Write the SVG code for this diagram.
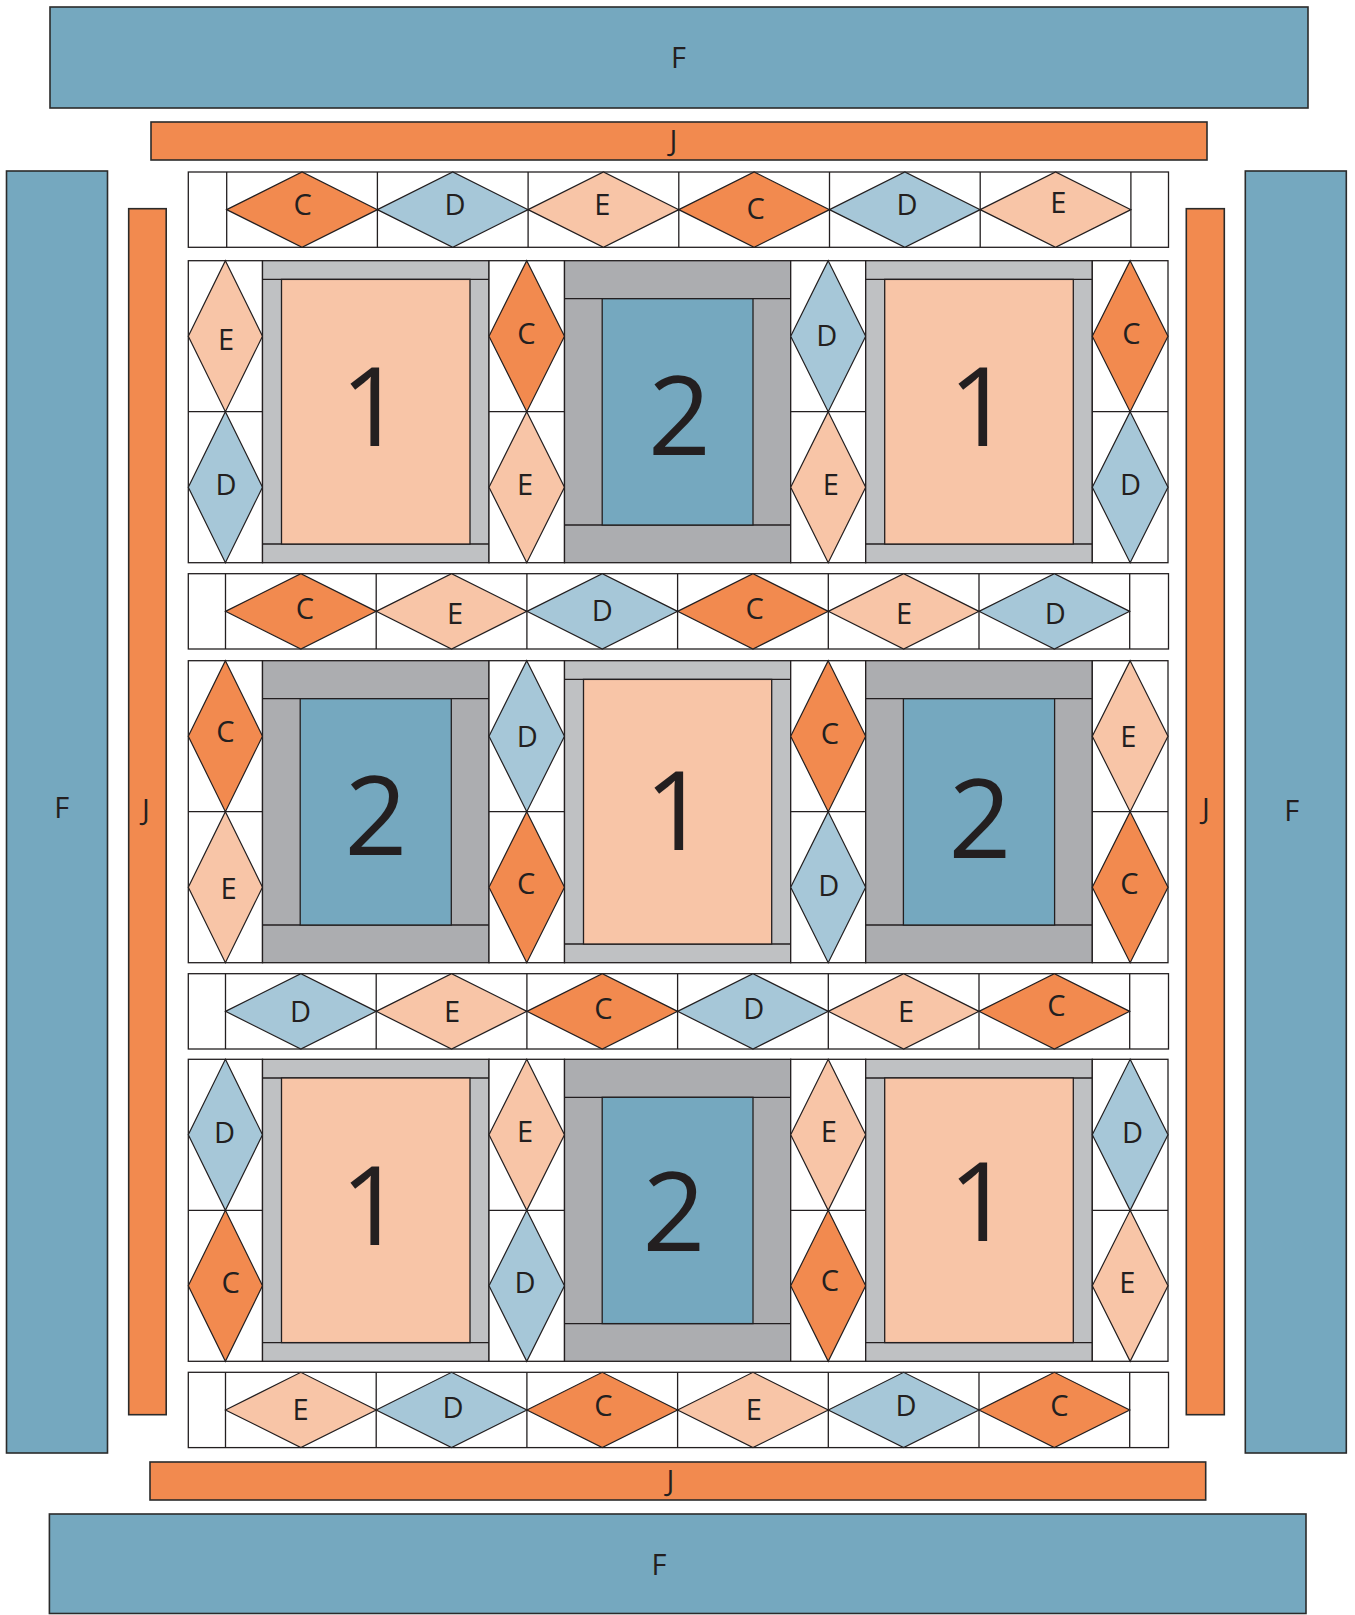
<svg xmlns="http://www.w3.org/2000/svg" width="1355" height="1615" viewBox="0 0 1355 1615">
<style>
  .bg{fill:#ffffff}
  .band{stroke:#2b2b2b;stroke-width:1.6}
  .fb{fill:#75a8bf}
  .jo{fill:#f28a4f}
  .cell{fill:#ffffff;stroke:#231f20;stroke-width:1.3}
  .ln{stroke:#231f20;stroke-width:1.3;fill:none}
  .C{fill:#f28a4f;stroke:#231f20;stroke-width:1.2}
  .D{fill:#a6c7d8;stroke:#231f20;stroke-width:1.2}
  .E{fill:#f8c5a7;stroke:#231f20;stroke-width:1.2}
  .g1{fill:#bfc1c3;stroke:#231f20;stroke-width:1.3}
  .g2{fill:#acadb0;stroke:#231f20;stroke-width:1.3}
  .in1{fill:#f8c5a7;stroke:#231f20;stroke-width:1.3}
  .in2{fill:#75a8bf;stroke:#231f20;stroke-width:1.3}
  text{font-family:"Open Sans","Liberation Sans",sans-serif;fill:#231f20;text-anchor:middle}
  .lb{font-size:29px}
  .num{font-size:110px}
</style>
<rect class="bg" x="0" y="0" width="1355" height="1615"/>

<g id="borders">
  <g id="F-top"><rect class="band fb" x="50" y="7" width="1258" height="101"/><text class="lb" x="678.5" y="68">F</text></g>
  <g id="J-top"><rect class="band jo" x="151" y="122" width="1056" height="38"/><text class="lb" x="673.5" y="151">J</text></g>
  <g id="F-left"><rect class="band fb" x="6.5" y="171" width="101" height="1282"/><text class="lb" x="61.7" y="818">F</text></g>
  <g id="J-left"><rect class="band jo" x="128.7" y="208.7" width="37.5" height="1206"/><text class="lb" x="146" y="820">J</text></g>
  <g id="J-right"><rect class="band jo" x="1186.3" y="208.7" width="38" height="1206"/><text class="lb" x="1206" y="819">J</text></g>
  <g id="F-right"><rect class="band fb" x="1245.3" y="171" width="101" height="1282"/><text class="lb" x="1291.7" y="821">F</text></g>
  <g id="J-bottom"><rect class="band jo" x="150" y="1462" width="1055.7" height="38"/><text class="lb" x="670.3" y="1491">J</text></g>
  <g id="F-bottom"><rect class="band fb" x="49.4" y="1514" width="1256.6" height="99.5"/><text class="lb" x="659" y="1575">F</text></g>
</g>

<!-- Sashing rows -->
<g id="sash-1">
  <rect class="cell" x="188.3" y="172" width="980.2" height="75.3"/>
  <path class="ln" d="M226.7 172V247.3M377.4 172V247.3M528.1 172V247.3M678.8 172V247.3M829.5 172V247.3M980.2 172V247.3M1130.9 172V247.3"/>
  <polygon class="C" points="226.7,209.65 302.05,172 377.4,209.65 302.05,247.3"/>
  <polygon class="D" points="377.4,209.65 452.75,172 528.1,209.65 452.75,247.3"/>
  <polygon class="E" points="528.1,209.65 603.45,172 678.8,209.65 603.45,247.3"/>
  <polygon class="C" points="678.8,209.65 754.15,172 829.5,209.65 754.15,247.3"/>
  <polygon class="D" points="829.5,209.65 904.85,172 980.2,209.65 904.85,247.3"/>
  <polygon class="E" points="980.2,209.65 1055.55,172 1130.9,209.65 1055.55,247.3"/>
  <text class="lb" x="302.7" y="215.4">C</text>
  <text class="lb" x="455.1" y="215.4">D</text>
  <text class="lb" x="602.3" y="215.4">E</text>
  <text class="lb" x="755.7" y="218.5">C</text>
  <text class="lb" x="907.1" y="215.4">D</text>
  <text class="lb" x="1058.4" y="213.3">E</text>
</g>

<g id="sash-2">
  <rect class="cell" x="188.3" y="573.7" width="980.2" height="75.3"/>
  <path class="ln" d="M225.5 573.7V649M376.2 573.7V649M526.9 573.7V649M677.6 573.7V649M828.3 573.7V649M979 573.7V649M1129.7 573.7V649"/>
  <polygon class="C" points="225.5,611.35 300.85,573.7 376.2,611.35 300.85,649"/>
  <polygon class="E" points="376.2,611.35 451.55,573.7 526.9,611.35 451.55,649"/>
  <polygon class="D" points="526.9,611.35 602.25,573.7 677.6,611.35 602.25,649"/>
  <polygon class="C" points="677.6,611.35 752.95,573.7 828.3,611.35 752.95,649"/>
  <polygon class="E" points="828.3,611.35 903.65,573.7 979,611.35 903.65,649"/>
  <polygon class="D" points="979,611.35 1054.35,573.7 1129.7,611.35 1054.35,649"/>
  <text class="lb" x="304.8" y="619">C</text>
  <text class="lb" x="455.1" y="624.1">E</text>
  <text class="lb" x="602.3" y="621">D</text>
  <text class="lb" x="754.7" y="619">C</text>
  <text class="lb" x="904" y="624.1">E</text>
  <text class="lb" x="1055.3" y="624.1">D</text>
</g>

<g id="sash-3">
  <rect class="cell" x="188.3" y="973.7" width="980.2" height="75.3"/>
  <path class="ln" d="M225.5 973.7V1049M376.2 973.7V1049M526.9 973.7V1049M677.6 973.7V1049M828.3 973.7V1049M979 973.7V1049M1129.7 973.7V1049"/>
  <polygon class="D" points="225.5,1011.35 300.85,973.7 376.2,1011.35 300.85,1049"/>
  <polygon class="E" points="376.2,1011.35 451.55,973.7 526.9,1011.35 451.55,1049"/>
  <polygon class="C" points="526.9,1011.35 602.25,973.7 677.6,1011.35 602.25,1049"/>
  <polygon class="D" points="677.6,1011.35 752.95,973.7 828.3,1011.35 752.95,1049"/>
  <polygon class="E" points="828.3,1011.35 903.65,973.7 979,1011.35 903.65,1049"/>
  <polygon class="C" points="979,1011.35 1054.35,973.7 1129.7,1011.35 1054.35,1049"/>
  <text class="lb" x="300.6" y="1021.5">D</text>
  <text class="lb" x="452" y="1021.5">E</text>
  <text class="lb" x="603.3" y="1018.5">C</text>
  <text class="lb" x="753.7" y="1018.5">D</text>
  <text class="lb" x="906" y="1021.5">E</text>
  <text class="lb" x="1056.4" y="1016.4">C</text>
</g>

<g id="sash-4">
  <rect class="cell" x="188.3" y="1372.3" width="980.2" height="75.3"/>
  <path class="ln" d="M225.5 1372.3V1447.6M376.2 1372.3V1447.6M526.9 1372.3V1447.6M677.6 1372.3V1447.6M828.3 1372.3V1447.6M979 1372.3V1447.6M1129.7 1372.3V1447.6"/>
  <polygon class="E" points="225.5,1409.95 300.85,1372.3 376.2,1409.95 300.85,1447.6"/>
  <polygon class="D" points="376.2,1409.95 451.55,1372.3 526.9,1409.95 451.55,1447.6"/>
  <polygon class="C" points="526.9,1409.95 602.25,1372.3 677.6,1409.95 602.25,1447.6"/>
  <polygon class="E" points="677.6,1409.95 752.95,1372.3 828.3,1409.95 752.95,1447.6"/>
  <polygon class="D" points="828.3,1409.95 903.65,1372.3 979,1409.95 903.65,1447.6"/>
  <polygon class="C" points="979,1409.95 1054.35,1372.3 1129.7,1409.95 1054.35,1447.6"/>
  <text class="lb" x="300.6" y="1420">E</text>
  <text class="lb" x="453" y="1418">D</text>
  <text class="lb" x="603.3" y="1416">C</text>
  <text class="lb" x="753.7" y="1420">E</text>
  <text class="lb" x="906" y="1416">D</text>
  <text class="lb" x="1059.5" y="1416">C</text>
</g>

<!-- Block row 1 -->
<g id="row-1">
  <g id="r1-dc1">
    <rect class="cell" x="188.3" y="260.7" width="74.2" height="302"/>
    <path class="ln" d="M188.3 411.7H262.5"/>
    <polygon class="E" points="225.4,260.7 262.5,336.2 225.4,411.7 188.3,336.2"/>
    <polygon class="D" points="225.4,411.7 262.5,487.2 225.4,562.7 188.3,487.2"/>
    <text class="lb" x="226" y="349.5">E</text>
    <text class="lb" x="226" y="495.4">D</text>
  </g>
  <g id="r1-b1">
    <rect class="g1" x="262.5" y="260.7" width="226.5" height="302"/>
    <path class="ln" d="M262.5 279.4H489M262.5 544H489"/>
    <rect class="in1" x="281.5" y="279.4" width="188.5" height="264.6"/>
    <text class="num" x="372" y="446">1</text>
  </g>
  <g id="r1-dc2">
    <rect class="cell" x="489" y="260.7" width="75.5" height="302"/>
    <path class="ln" d="M489 411.7H564.5"/>
    <polygon class="C" points="526.75,260.7 564.5,336.2 526.75,411.7 489,336.2"/>
    <polygon class="E" points="526.75,411.7 564.5,487.2 526.75,562.7 489,487.2"/>
    <text class="lb" x="526.4" y="344.1">C</text>
    <text class="lb" x="525.1" y="495.4">E</text>
  </g>
  <g id="r1-b2">
    <rect class="g2" x="564.5" y="260.7" width="226.2" height="302"/>
    <path class="ln" d="M564.5 298.7H790.7M564.5 525H790.7"/>
    <rect class="in2" x="602.2" y="298.7" width="150.8" height="226.3"/>
    <text class="num" x="679.5" y="455.3">2</text>
  </g>
  <g id="r1-dc3">
    <rect class="cell" x="790.7" y="260.7" width="75" height="302"/>
    <path class="ln" d="M790.7 411.7H865.7"/>
    <polygon class="D" points="828.2,260.7 865.7,336.2 828.2,411.7 790.7,336.2"/>
    <polygon class="E" points="828.2,411.7 865.7,487.2 828.2,562.7 790.7,487.2"/>
    <text class="lb" x="826.8" y="346.1">D</text>
    <text class="lb" x="830.9" y="495.4">E</text>
  </g>
  <g id="r1-b3">
    <rect class="g1" x="865.7" y="260.7" width="226.6" height="302"/>
    <path class="ln" d="M865.7 279.4H1092.3M865.7 544H1092.3"/>
    <rect class="in1" x="884.7" y="279.4" width="188.6" height="264.6"/>
    <text class="num" x="980" y="446">1</text>
  </g>
  <g id="r1-dc4">
    <rect class="cell" x="1092.3" y="260.7" width="75.7" height="302"/>
    <path class="ln" d="M1092.3 411.7H1168"/>
    <polygon class="C" points="1130.15,260.7 1168,336.2 1130.15,411.7 1092.3,336.2"/>
    <polygon class="D" points="1130.15,411.7 1168,487.2 1130.15,562.7 1092.3,487.2"/>
    <text class="lb" x="1131.5" y="344.1">C</text>
    <text class="lb" x="1130.5" y="495.4">D</text>
  </g>
</g>

<!-- Block row 2 -->
<g id="row-2">
  <g id="r2-dc1">
    <rect class="cell" x="188.3" y="660.7" width="74.2" height="302"/>
    <path class="ln" d="M188.3 811.7H262.5"/>
    <polygon class="C" points="225.4,660.7 262.5,736.2 225.4,811.7 188.3,736.2"/>
    <polygon class="E" points="225.4,811.7 262.5,887.2 225.4,962.7 188.3,887.2"/>
    <text class="lb" x="225.5" y="742">C</text>
    <text class="lb" x="228.6" y="898.5">E</text>
  </g>
  <g id="r2-b1">
    <rect class="g2" x="262.5" y="660.7" width="226.5" height="302"/>
    <path class="ln" d="M262.5 698.7H489M262.5 925H489"/>
    <rect class="in2" x="300.2" y="698.7" width="151.1" height="226.3"/>
    <text class="num" x="376" y="855">2</text>
  </g>
  <g id="r2-dc2">
    <rect class="cell" x="489" y="660.7" width="75.5" height="302"/>
    <path class="ln" d="M489 811.7H564.5"/>
    <polygon class="D" points="526.75,660.7 564.5,736.2 526.75,811.7 489,736.2"/>
    <polygon class="C" points="526.75,811.7 564.5,887.2 526.75,962.7 489,887.2"/>
    <text class="lb" x="527.2" y="746.7">D</text>
    <text class="lb" x="526.1" y="893.9">C</text>
  </g>
  <g id="r2-b2">
    <rect class="g1" x="564.5" y="660.7" width="226.2" height="302"/>
    <path class="ln" d="M564.5 679.4H790.7M564.5 944H790.7"/>
    <rect class="in1" x="583.5" y="679.4" width="188.2" height="264.6"/>
    <text class="num" x="676" y="850">1</text>
  </g>
  <g id="r2-dc3">
    <rect class="cell" x="790.7" y="660.7" width="75" height="302"/>
    <path class="ln" d="M790.7 811.7H865.7"/>
    <polygon class="C" points="828.2,660.7 865.7,736.2 828.2,811.7 790.7,736.2"/>
    <polygon class="D" points="828.2,811.7 865.7,887.2 828.2,962.7 790.7,887.2"/>
    <text class="lb" x="829.9" y="743.6">C</text>
    <text class="lb" x="828.8" y="896">D</text>
  </g>
  <g id="r2-b3">
    <rect class="g2" x="865.7" y="660.7" width="226.6" height="302"/>
    <path class="ln" d="M865.7 698.7H1092.3M865.7 925H1092.3"/>
    <rect class="in2" x="903.4" y="698.7" width="151.2" height="226.3"/>
    <text class="num" x="980" y="858">2</text>
  </g>
  <g id="r2-dc4">
    <rect class="cell" x="1092.3" y="660.7" width="75.7" height="302"/>
    <path class="ln" d="M1092.3 811.7H1168"/>
    <polygon class="E" points="1130.15,660.7 1168,736.2 1130.15,811.7 1092.3,736.2"/>
    <polygon class="C" points="1130.15,811.7 1168,887.2 1130.15,962.7 1092.3,887.2"/>
    <text class="lb" x="1128.4" y="746.7">E</text>
    <text class="lb" x="1129.5" y="893.9">C</text>
  </g>
</g>

<!-- Block row 3 -->
<g id="row-3">
  <g id="r3-dc1">
    <rect class="cell" x="188.3" y="1059.3" width="74.2" height="302"/>
    <path class="ln" d="M188.3 1210.3H262.5"/>
    <polygon class="D" points="225.4,1059.3 262.5,1134.8 225.4,1210.3 188.3,1134.8"/>
    <polygon class="C" points="225.4,1210.3 262.5,1285.8 225.4,1361.3 188.3,1285.8"/>
    <text class="lb" x="224.5" y="1143.1">D</text>
    <text class="lb" x="230.6" y="1293.4">C</text>
  </g>
  <g id="r3-b1">
    <rect class="g1" x="262.5" y="1059.3" width="226.5" height="302"/>
    <path class="ln" d="M262.5 1078H489M262.5 1342.6H489"/>
    <rect class="in1" x="281.5" y="1078" width="188.5" height="264.6"/>
    <text class="num" x="372" y="1245">1</text>
  </g>
  <g id="r3-dc2">
    <rect class="cell" x="489" y="1059.3" width="75.5" height="302"/>
    <path class="ln" d="M489 1210.3H564.5"/>
    <polygon class="E" points="526.75,1059.3 564.5,1134.8 526.75,1210.3 489,1134.8"/>
    <polygon class="D" points="526.75,1210.3 564.5,1285.8 526.75,1361.3 489,1285.8"/>
    <text class="lb" x="525.1" y="1142">E</text>
    <text class="lb" x="525.1" y="1293.4">D</text>
  </g>
  <g id="r3-b2">
    <rect class="g2" x="564.5" y="1059.3" width="226.2" height="302"/>
    <path class="ln" d="M564.5 1097.3H790.7M564.5 1323.6H790.7"/>
    <rect class="in2" x="602.2" y="1097.3" width="150.8" height="226.3"/>
    <text class="num" x="674" y="1250.7">2</text>
  </g>
  <g id="r3-dc3">
    <rect class="cell" x="790.7" y="1059.3" width="75" height="302"/>
    <path class="ln" d="M790.7 1210.3H865.7"/>
    <polygon class="E" points="828.2,1059.3 865.7,1134.8 828.2,1210.3 790.7,1134.8"/>
    <polygon class="C" points="828.2,1210.3 865.7,1285.8 828.2,1361.3 790.7,1285.8"/>
    <text class="lb" x="828.8" y="1142">E</text>
    <text class="lb" x="829.9" y="1291.3">C</text>
  </g>
  <g id="r3-b3">
    <rect class="g1" x="865.7" y="1059.3" width="226.6" height="302"/>
    <path class="ln" d="M865.7 1078H1092.3M865.7 1342.6H1092.3"/>
    <rect class="in1" x="884.7" y="1078" width="188.6" height="264.6"/>
    <text class="num" x="980" y="1241">1</text>
  </g>
  <g id="r3-dc4">
    <rect class="cell" x="1092.3" y="1059.3" width="75.7" height="302"/>
    <path class="ln" d="M1092.3 1210.3H1168"/>
    <polygon class="D" points="1130.15,1059.3 1168,1134.8 1130.15,1210.3 1092.3,1134.8"/>
    <polygon class="E" points="1130.15,1210.3 1168,1285.8 1130.15,1361.3 1092.3,1285.8"/>
    <text class="lb" x="1132.6" y="1143.1">D</text>
    <text class="lb" x="1127.4" y="1293.4">E</text>
  </g>
</g>

<g id="connectors"></g>
</svg>
